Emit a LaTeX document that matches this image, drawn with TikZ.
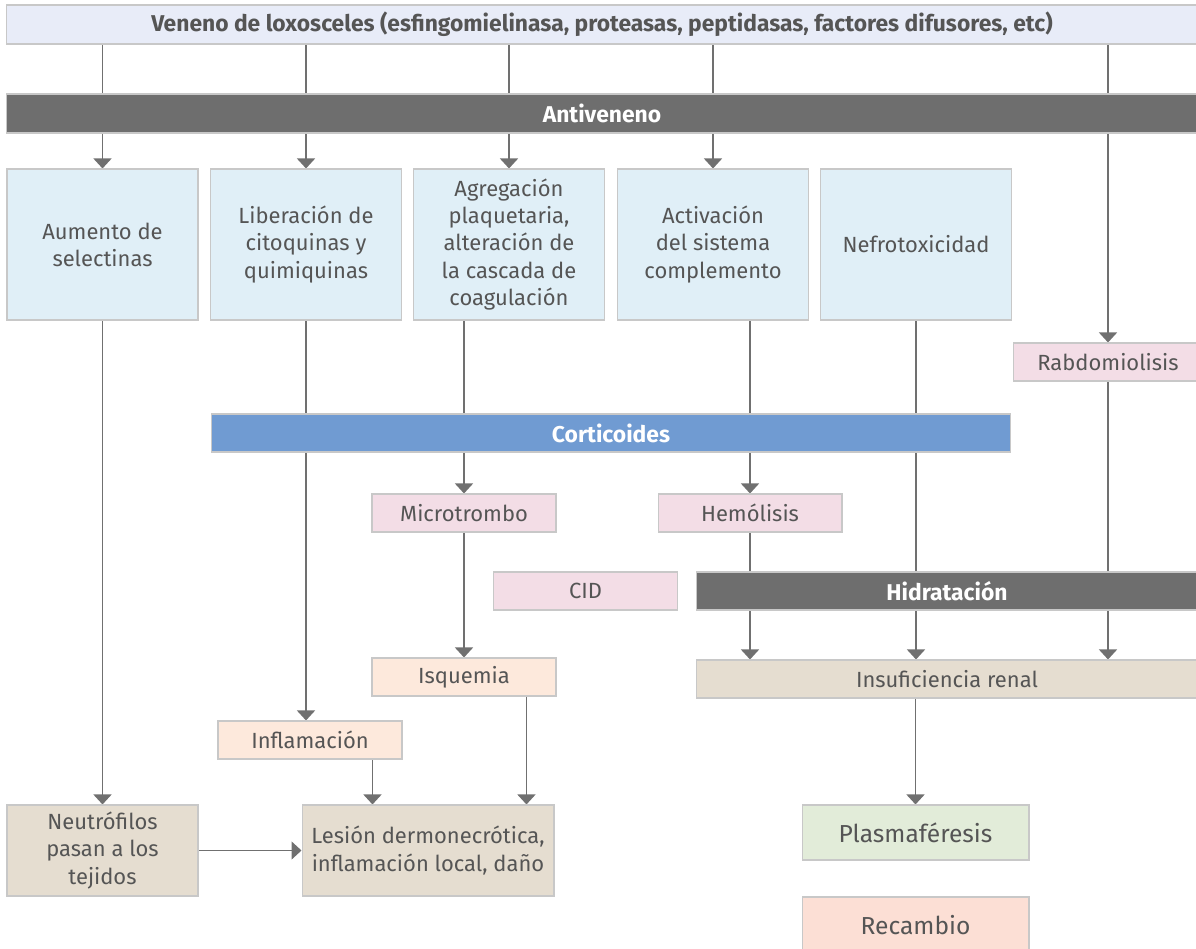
\documentclass[tikz,border=0pt]{standalone}
\usepackage{fontspec}
\setmainfont{Fira Sans}
\usetikzlibrary{arrows.meta,backgrounds}
\definecolor{txtc}{HTML}{555555}
\definecolor{linec}{HTML}{707070}
\definecolor{bordc}{HTML}{C8C8C8}
\definecolor{venc}{HTML}{E8ECF8}
\definecolor{darkc}{HTML}{6E6E6E}
\definecolor{bluec}{HTML}{E0EFF7}
\definecolor{cortc}{HTML}{709BD2}
\definecolor{pinkc}{HTML}{F3DDE6}
\definecolor{peachc}{HTML}{FDE9DC}
\definecolor{beigec}{HTML}{E5DDD0}
\definecolor{greenc}{HTML}{E2ECD9}
\definecolor{salmc}{HTML}{FCDFD5}
\tikzset{
  box/.style={draw=bordc, line width=0.6pt, text=txtc, align=center, inner sep=0pt,
    font=\fontsize{12.5}{15.4}\selectfont},
  bar/.style={box, text=white, font=\fontsize{13}{15}\selectfont\bfseries,
    minimum height=0.78cm},
  effect/.style={box, minimum width=3.82cm, minimum height=3.02cm, fill=bluec},
  small/.style={box, minimum width=3.68cm, minimum height=0.76cm},
  big/.style={box, minimum width=4.54cm, font=\fontsize{14}{17}\selectfont},
  arr/.style={draw=linec, line width=0.8pt, -{Triangle[width=0.36cm,length=0.2cm]}}
}
\begin{document}
\begin{tikzpicture}[x=0.02cm, y=-0.02cm]
\useasboundingbox (0,0) rectangle (1196,949);
% Veneno y antiveneno
\node[bar, fill=venc, text=txtc, minimum width=23.84cm] (ven) at (602,24.5)
  {Veneno de loxosceles (esfingomielinasa, proteasas, peptidasas, factores difusores, etc)};
\node[bar, fill=darkc, minimum width=23.84cm] (anti) at (602,113.5) {Antiveneno};
% Efectos del veneno
\node[effect] (aum) at (102.5,244.5) {Aumento de\\selectinas};
\node[effect] (lib) at (306,244.5) {Liberación de\\citoquinas y\\quimiquinas};
\node[effect] (agr) at (509,244.5) {Agregación\\plaquetaria,\\alteración de\\la cascada de\\coagulación};
\node[effect] (act) at (713,244.5) {Activación\\del sistema\\complemento};
\node[effect] (nef) at (916,244.5) {Nefrotoxicidad};
\node[small, fill=pinkc, minimum width=3.8cm] (rab) at (1108,362) {Rabdomiolisis};
% Corticoides
\node[bar, fill=cortc, minimum width=16cm, minimum height=0.76cm] (cort) at (611,433) {Corticoides};
\node[small, fill=pinkc] (mic) at (464,513) {Microtrombo};
\node[small, fill=pinkc] (hem) at (750,513) {Hemólisis};
\node[small, fill=pinkc] (cid) at (585.5,591) {CID};
% Hidratacion
\node[bar, fill=darkc, minimum width=10.04cm, minimum height=0.76cm] (hid) at (947,591) {Hidratación};
\node[small, fill=beigec, minimum width=10.04cm] (ins) at (947,679) {Insuficiencia renal};
\node[small, fill=peachc] (isq) at (464,677) {Isquemia};
\node[small, fill=peachc] (inf) at (310,740) {Inflamación};
% Consecuencias
\node[box, fill=beigec, minimum width=3.82cm, minimum height=1.82cm] (neu) at (102.5,850.5)
  {Neutrófilos\\pasan a los\\tejidos};
\node[box, fill=beigec, minimum width=5.04cm, minimum height=1.82cm] (les) at (428,850.5)
  {Lesión dermonecrótica,\\inflamación local, daño};
\node[big, fill=greenc, minimum height=1.1cm] (pla) at (915.5,832.5) {Plasmaféresis};
\node[big, fill=salmc, minimum height=1.12cm] (rec) at (915.5,925) {Recambio};
\coordinate (lesA) at ([xshift=1.42cm]les.north west);
\coordinate (lesB) at ([xshift=4.5cm]les.north west);
% Conectores
\begin{scope}[on background layer]
  \foreach \n in {aum,lib,agr,act,rab}
    \draw[arr] (ven.south -| \n) -- (\n.north);
  \draw[arr] (aum.south) -- (neu.north);
  \draw[arr] (lib.south) -- (lib.south |- inf.north);
  \draw[arr] (agr.south -| mic) -- (mic.north);
  \draw[arr] (act.south -| hem) -- (hem.north);
  \foreach \n in {hem,nef,rab}
    \draw[arr] (\n.south) -- (\n.south |- ins.north);
  \draw[arr] (mic.south) -- (isq.north);
  \draw[arr] (inf.south -| lesA) -- (lesA);
  \draw[arr] (isq.south -| lesB) -- (lesB);
  \draw[arr] (neu.east) -- (les.west);
  \draw[arr] (ins.south -| pla) -- (pla.north);
\end{scope}
\end{tikzpicture}
\end{document}
